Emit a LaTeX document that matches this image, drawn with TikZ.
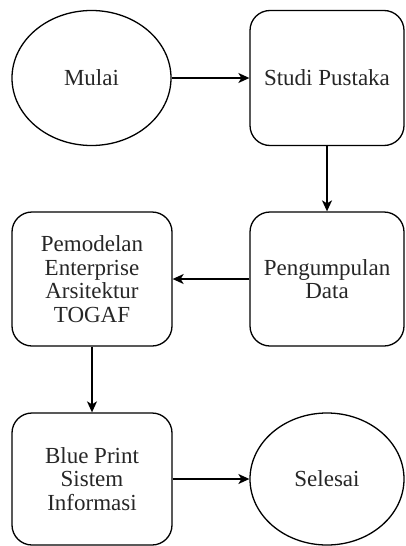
\documentclass[tikz,border=0pt]{standalone}
\usepackage{fontspec}
\setmainfont{Liberation Serif}
\usetikzlibrary{shapes.geometric,arrows.meta}
\begin{document}
\begin{tikzpicture}[x=1pt,y=1pt,
  txt/.style={font=\fontsize{23}{23.5}\selectfont, align=center, inner sep=0pt, text=black!85},
  stepbox/.style={txt, draw, rounded corners=20pt, line width=1.3pt},
  oval/.style={txt, draw, ellipse, line width=1.3pt},
  arr/.style={-{Stealth[length=11pt,width=10pt,inset=3pt]}, line width=1.4pt}]
\useasboundingbox (0,0) rectangle (406,-546);
\node[oval, minimum width=159pt, minimum height=135pt] (mulai) at (91.5,-78) {Mulai};
\node[stepbox, minimum width=154pt, minimum height=135pt] (studi) at (327,-78) {Studi Pustaka};
\node[stepbox, minimum width=154pt, minimum height=134pt] (kumpul) at (327,-279) {Pengumpulan\\Data};
\node[stepbox, minimum width=160pt, minimum height=134pt] (model) at (92,-279) {Pemodelan\\Enterprise\\Arsitektur\\TOGAF};
\node[stepbox, minimum width=160pt, minimum height=132pt] (blue) at (92,-479) {Blue Print\\Sistem\\Informasi};
\node[oval, minimum width=154pt, minimum height=132pt] (selesai) at (327,-479) {Selesai};
\draw[arr] (mulai) -- (studi);
\draw[arr] (studi) -- (kumpul);
\draw[arr] (kumpul) -- (model);
\draw[arr] (model) -- (blue);
\draw[arr] (blue) -- (selesai);
\end{tikzpicture}
\end{document}
